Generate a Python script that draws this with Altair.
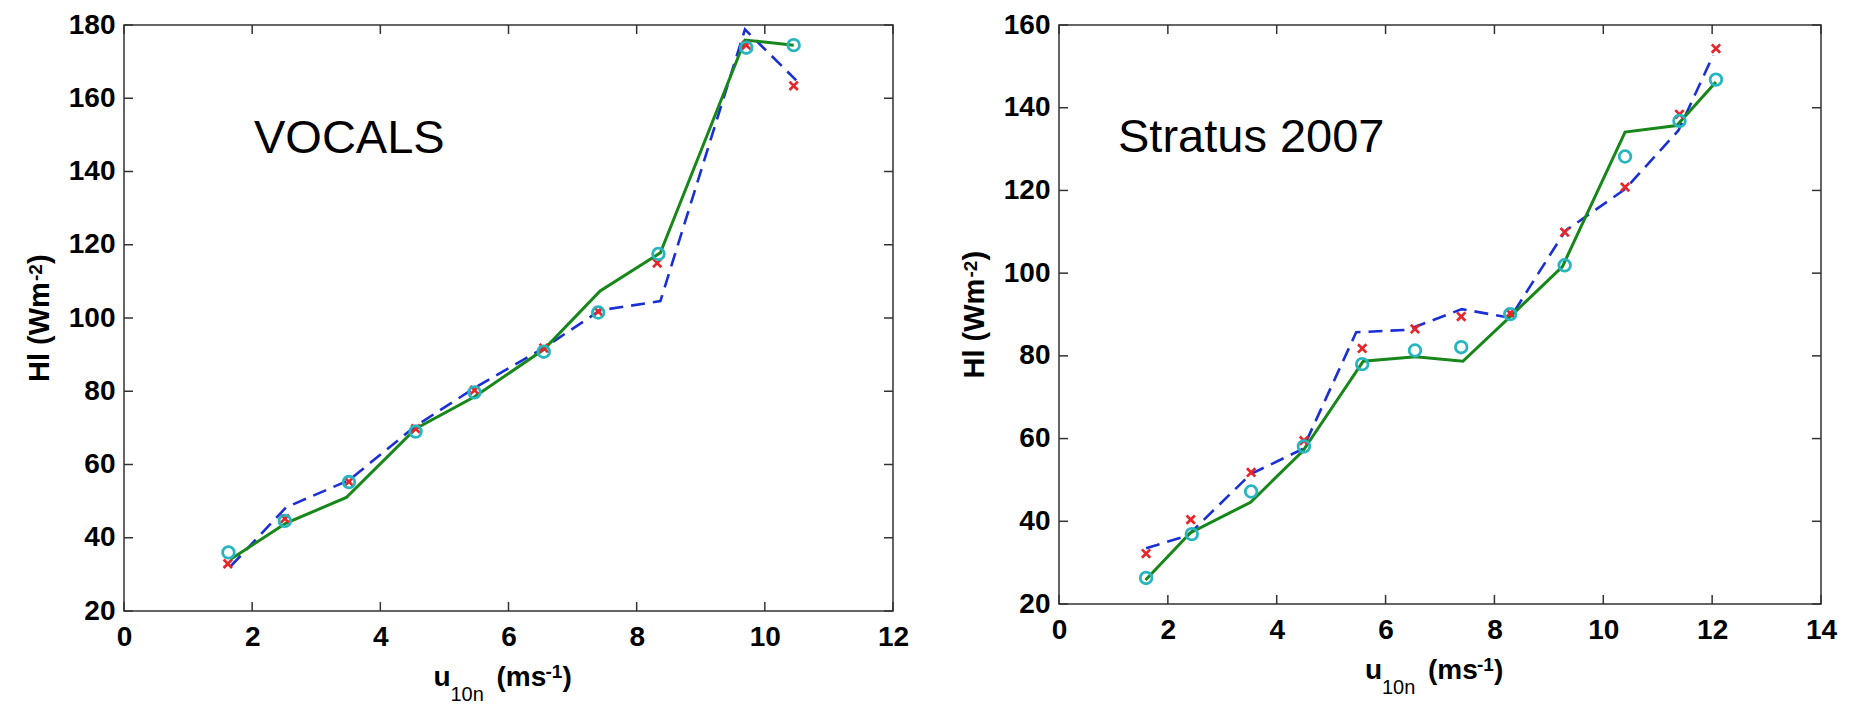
import altair as alt
import pandas as pd

FONT = "Liberation Sans"

# ---------------- VOCALS panel ----------------
v_circ_x = [1.63, 2.51, 3.51, 4.55, 5.47, 6.55, 7.40, 8.34, 9.71, 10.45]
v_circ_y = [36.0, 44.6, 55.2, 69.0, 79.7, 90.8, 101.5, 117.5, 173.8, 174.5]
v_cross_x = [1.62, 2.51, 3.51, 4.55, 5.47, 6.55, 7.40, 8.32, 9.71, 10.45]
v_cross_y = [32.9, 45.2, 55.3, 69.8, 80.3, 91.8, 101.8, 115.0, 174.5, 163.4]
v_dash_x = [1.67, 2.53, 3.51, 4.55, 5.47, 6.55, 7.43, 8.37, 9.69, 10.49]
v_dash_y = [32.3, 48.3, 55.7, 70.5, 80.9, 91.8, 102.1, 104.6, 178.8, 164.9]
v_solid_x = [1.67, 2.53, 3.47, 4.55, 5.47, 6.55, 7.43, 8.37, 9.69, 10.45]
v_solid_y = [34.2, 44.0, 51.0, 69.8, 78.5, 91.4, 107.4, 117.8, 175.9, 174.5]
v_xticks = [0, 2, 4, 6, 8, 10, 12]
v_yticks = [20, 40, 60, 80, 100, 120, 140, 160, 180]

# ---------------- Stratus 2007 panel ----------------
s_circ_x = [1.60, 2.44, 3.53, 4.50, 5.57, 6.54, 7.39, 8.29, 9.29, 10.40, 11.40, 12.07]
s_circ_y = [26.3, 36.9, 47.2, 58.1, 78.0, 81.3, 82.1, 90.1, 101.9, 128.2, 136.8, 146.8]
s_cross_x = [1.60, 2.42, 3.53, 4.50, 5.57, 6.54, 7.39, 8.29, 9.29, 10.40, 11.40, 12.07]
s_cross_y = [32.2, 40.4, 51.8, 59.5, 81.8, 86.5, 89.5, 90.3, 109.9, 120.8, 138.4, 154.3]
s_dash_x = [1.60, 2.36, 3.52, 4.48, 5.46, 6.40, 7.40, 8.29, 9.30, 10.40, 11.38, 12.02]
s_dash_y = [33.5, 36.5, 51.4, 57.5, 85.7, 86.3, 91.3, 89.2, 110.2, 120.3, 134.5, 152.7]
s_solid_x = [1.59, 2.41, 3.52, 4.48, 5.59, 6.55, 7.42, 8.29, 9.25, 10.40, 11.35, 12.07]
s_solid_y = [25.8, 37.2, 44.6, 57.0, 78.7, 79.8, 78.7, 89.5, 101.6, 134.1, 135.7, 146.2]
s_xticks = [0, 2, 4, 6, 8, 10, 12, 14]
s_yticks = [20, 40, 60, 80, 100, 120, 140, 160]

CYAN = "#27b5c0"
RED = "#e8252a"
BLUE = "#1a2fd6"
GREEN = "#17871a"
FRAME = "#333333"
XMARK = "M-1,-1L1,1M-1,1L1,-1"


def one():
    return pd.DataFrame({"k": [0]})


def text_layer(txt, x, y, size, angle=0, weight="normal"):
    kw = dict(text=txt, font=FONT, fontSize=size, align="left",
              baseline="alphabetic", color="black", fontWeight=weight)
    if angle:
        kw["angle"] = angle
    return alt.Chart(one()).mark_text(**kw).encode(x=alt.value(x), y=alt.value(y))


def panel(circ_x, circ_y, cross_x, cross_y, dash_x, dash_y, solid_x, solid_y,
          xticks, yticks, W, H, label, label_x, label_y):
    xscale = alt.Scale(domain=[xticks[0], xticks[-1]], nice=False, zero=False)
    yscale = alt.Scale(domain=[yticks[0], yticks[-1]], nice=False, zero=False)
    xaxis = alt.Axis(values=xticks, title=None, grid=False, domain=False, ticks=False,
                     labelFont=FONT, labelFontSize=28, labelColor="black",
                     labelFontWeight="bold",
                     labelPadding=12, labelFlush=False, format="d")
    yaxis = alt.Axis(values=yticks, title=None, grid=False, domain=False, ticks=False,
                     labelFont=FONT, labelFontSize=28, labelColor="black",
                     labelFontWeight="bold",
                     labelPadding=9, labelFlush=False, format="d")

    def X(f):
        return alt.X(f, type="quantitative", scale=xscale, axis=xaxis)

    def Y(f):
        return alt.Y(f, type="quantitative", scale=yscale, axis=yaxis)

    dash = alt.Chart(pd.DataFrame({"x": dash_x, "y": dash_y})).mark_line(
        color=BLUE, strokeWidth=2.6, strokeDash=[14, 8]).encode(x=X("x"), y=Y("y"))
    solid = alt.Chart(pd.DataFrame({"x": solid_x, "y": solid_y})).mark_line(
        color=GREEN, strokeWidth=3).encode(x=X("x"), y=Y("y"))
    cross = alt.Chart(pd.DataFrame({"x": cross_x, "y": cross_y})).mark_point(
        shape=XMARK, filled=False, color=RED, strokeWidth=2.7, size=70, opacity=1
    ).encode(x=X("x"), y=Y("y"))
    circ = alt.Chart(pd.DataFrame({"x": circ_x, "y": circ_y})).mark_point(
        shape="circle", filled=False, color=CYAN, strokeWidth=2.8, size=135, opacity=1
    ).encode(x=X("x"), y=Y("y"))

    xt = pd.DataFrame({"t": xticks})
    yt = pd.DataFrame({"t": yticks})
    tick_style = dict(color=FRAME, strokeWidth=1.5)
    tb = alt.Chart(xt).mark_rule(**tick_style).encode(
        x=X("t"), y=alt.value(H), y2=alt.value(H - 9))
    tt = alt.Chart(xt).mark_rule(**tick_style).encode(
        x=X("t"), y=alt.value(0), y2=alt.value(9))
    tl = alt.Chart(yt).mark_rule(**tick_style).encode(
        y=Y("t"), x=alt.value(0), x2=alt.value(9))
    tr = alt.Chart(yt).mark_rule(**tick_style).encode(
        y=Y("t"), x=alt.value(W), x2=alt.value(W - 9))

    cx = W / 2
    cy = H / 2
    B = "bold"
    texts = [
        text_layer(label, label_x, label_y, 47),
        # x title: u_{10n} (ms^{-1})
        text_layer("u", cx - 75, H + 75, 28, weight=B),
        text_layer("10n", cx - 58, H + 90, 20),
        text_layer("(ms", cx - 12, H + 75, 28, weight=B),
        text_layer("-1", cx + 37, H + 67, 19, weight=B),
        text_layer(")", cx + 54, H + 75, 28, weight=B),
        # y title: Hl (Wm^{-2})
        text_layer("Hl (Wm", -75, cy + 64, 29, 270, weight=B),
        text_layer("-2", -82, cy - 37, 19, 270, weight=B),
        text_layer(")", -75, cy - 54, 29, 270, weight=B),
    ]

    return alt.layer(dash, solid, cross, circ, tb, tt, tl, tr, *texts).properties(
        width=W, height=H)


left = panel(v_circ_x, v_circ_y, v_cross_x, v_cross_y, v_dash_x, v_dash_y,
             v_solid_x, v_solid_y, v_xticks, v_yticks, 769, 586, "VOCALS", 130, 128)
right = panel(s_circ_x, s_circ_y, s_cross_x, s_cross_y, s_dash_x, s_dash_y,
              s_solid_x, s_solid_y, s_xticks, s_yticks, 762, 579, "Stratus 2007", 59, 127)

chart = alt.hconcat(left, right, spacing=50).properties(
    padding={"left": 25, "top": 10, "right": 0, "bottom": 0},
    background="white",
).configure_view(stroke=FRAME, strokeWidth=1.5)

chart.save("out.html", embed_options={"renderer": "svg", "actions": False})
